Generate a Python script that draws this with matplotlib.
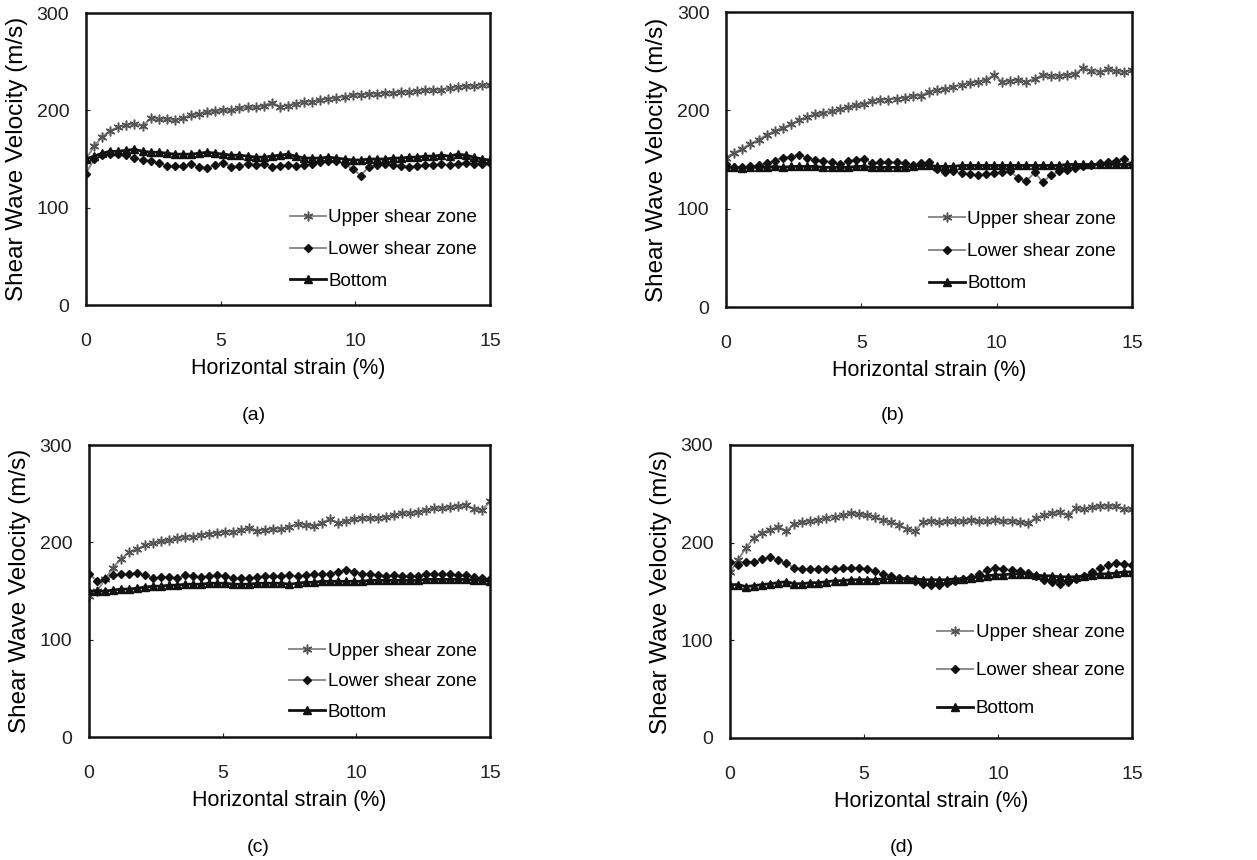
import matplotlib
matplotlib.use("Agg")
import matplotlib.pyplot as plt
import numpy as np

plt.rcParams['font.family'] = ['Liberation Sans', 'DejaVu Sans']

# strain values (%), 0 to 15 in 0.3 steps
strain = np.round(np.arange(0, 15.01, 0.3), 1)

# (a)
upper_a = [150, 163, 173, 179, 183, 185, 186, 184, 192, 191, 191, 190, 192, 195, 196, 198, 199,
           200, 200, 202, 203, 203, 205, 208, 204, 205, 207, 209, 209, 211, 212, 213, 214, 216,
           216, 217, 217, 218, 218, 219, 219, 220, 221, 221, 221, 223, 224, 225, 225, 226, 226]
lower_a = [135, 150, 154, 155, 155, 154, 151, 149, 148, 146, 143, 143, 143, 145, 142, 141, 144,
           146, 142, 143, 145, 144, 145, 142, 143, 144, 143, 144, 145, 147, 148, 148, 145, 140,
           133, 142, 144, 145, 144, 143, 142, 143, 144, 144, 145, 144, 145, 146, 145, 145, 146]
bottom_a = [150, 153, 156, 158, 158, 159, 160, 158, 157, 157, 156, 155, 155, 155, 156, 157, 156,
            155, 154, 154, 153, 152, 152, 153, 154, 155, 153, 151, 151, 151, 152, 151, 150, 149,
            149, 150, 150, 150, 151, 151, 152, 152, 153, 153, 154, 153, 155, 154, 152, 150, 149]

# (b)
upper_b = [152, 157, 161, 166, 170, 175, 179, 182, 186, 190, 193, 196, 197, 199, 201, 203, 205,
           206, 210, 211, 211, 212, 213, 215, 215, 219, 221, 222, 224, 226, 228, 229, 231, 236,
           229, 230, 231, 229, 232, 236, 235, 235, 236, 237, 243, 240, 239, 242, 240, 239, 241]
lower_b = [145, 142, 142, 143, 144, 146, 149, 152, 153, 155, 152, 150, 149, 147, 145, 148, 150,
           151, 146, 147, 147, 147, 146, 144, 146, 147, 140, 137, 138, 136, 135, 134, 135, 136,
           137, 138, 131, 128, 137, 127, 134, 138, 139, 141, 143, 144, 146, 147, 149, 151, 145]
bottom_b = [142, 142, 141, 142, 142, 142, 143, 142, 143, 143, 143, 143, 142, 142, 142, 142, 143,
            143, 142, 142, 142, 142, 142, 143, 144, 144, 143, 143, 143, 144, 144, 144, 144, 144,
            144, 144, 144, 144, 144, 144, 144, 144, 145, 145, 145, 145, 145, 145, 145, 145, 145]

# (c)
upper_c = [145, 150, 162, 174, 183, 190, 193, 197, 199, 201, 202, 204, 206, 206, 208, 209, 210,
           211, 211, 213, 215, 212, 213, 214, 214, 216, 219, 218, 217, 220, 224, 220, 222, 224,
           225, 225, 225, 226, 228, 230, 230, 231, 233, 235, 235, 236, 237, 238, 234, 233, 242]
lower_c = [168, 160, 162, 166, 167, 167, 169, 166, 163, 164, 164, 163, 166, 165, 164, 165, 166,
           165, 163, 163, 163, 164, 165, 165, 165, 166, 165, 166, 167, 167, 168, 170, 172, 170,
           168, 167, 166, 165, 166, 165, 165, 165, 168, 167, 167, 167, 166, 166, 164, 163, 162]
bottom_c = [150, 150, 150, 151, 152, 152, 153, 154, 155, 155, 156, 156, 157, 157, 157, 158, 158,
            158, 157, 157, 157, 158, 158, 158, 158, 157, 158, 159, 159, 160, 160, 160, 160, 160,
            160, 161, 161, 161, 161, 161, 161, 161, 162, 162, 162, 162, 162, 162, 161, 161, 160]

# (d)
upper_d = [170, 182, 195, 205, 210, 213, 216, 212, 219, 221, 222, 223, 225, 226, 228, 230, 229,
           228, 226, 223, 221, 218, 214, 212, 221, 222, 221, 222, 222, 222, 223, 222, 222, 223,
           222, 222, 221, 220, 225, 228, 230, 231, 228, 235, 234, 236, 237, 238, 237, 234, 234]
lower_d = [180, 177, 180, 180, 183, 185, 182, 179, 174, 173, 173, 173, 173, 173, 174, 174, 174,
           173, 171, 168, 166, 164, 163, 161, 158, 157, 157, 159, 161, 163, 165, 168, 172, 174,
           173, 172, 171, 169, 166, 162, 160, 158, 160, 163, 166, 170, 174, 177, 179, 178, 177]
bottom_d = [157, 157, 155, 156, 157, 158, 159, 160, 158, 158, 159, 159, 160, 161, 161, 162, 162,
            162, 162, 163, 163, 163, 163, 163, 162, 162, 162, 162, 163, 163, 164, 165, 166, 167,
            167, 168, 168, 168, 167, 166, 166, 165, 165, 165, 166, 167, 168, 168, 169, 170, 170]

series_names = ['Upper shear zone', 'Lower shear zone', 'Bottom']
captions = ['(a)', '(b)', '(c)', '(d)']
panels = [(upper_a, lower_a, bottom_a), (upper_b, lower_b, bottom_b),
          (upper_c, lower_c, bottom_c), (upper_d, lower_d, bottom_d)]

# axes boxes [left, bottom, width, height] in figure fractions
boxes = [[0.0684, 0.6453, 0.3214, 0.3395], [0.5776, 0.6430, 0.3230, 0.3430],
         [0.0708, 0.1430, 0.3190, 0.3395], [0.5807, 0.1419, 0.3200, 0.3407]]
legend_anchor = [(0.505, 0.052), (0.50, 0.05), (0.50, 0.055), (0.515, 0.07)]
legend_spacing = [0.78, 0.8, 0.72, 1.12]
caption_pos = [(0.202, 0.5174), (0.7104, 0.5174), (0.2053, 0.014), (0.7176, 0.0151)]

fig = plt.figure(figsize=(12.57, 8.6), dpi=100)

for i, (up, lo, bo) in enumerate(panels):
    ax = fig.add_axes(boxes[i])
    ax.plot(strain, up, color='#8c8c8c', lw=1.4, marker=(6, 2, 0), ms=7,
            mec='#555555', mew=1.1, label=series_names[0])
    ax.plot(strain, lo, color='#8c8c8c', lw=1.4, marker='D', ms=4.5,
            mfc='#111111', mec='#111111', label=series_names[1])
    ax.plot(strain, bo, color='#111111', lw=2.0, marker='^', ms=5.5,
            mfc='#111111', mec='#111111', label=series_names[2])

    ax.set_xlim(0, 15)
    ax.set_ylim(0, 300)
    ax.set_xticks([0, 5, 10, 15])
    ax.set_yticks([0, 100, 200, 300])
    ax.tick_params(direction='in', length=3, width=0.8, labelsize=14, colors='#222222')
    ax.tick_params(axis='x', pad=20)
    ax.tick_params(axis='y', pad=12)
    for s in ax.spines.values():
        s.set_linewidth(1.8)
        s.set_color('#111111')
    ax.set_xlabel('Horizontal strain (%)', fontsize=15.5, labelpad=6)
    ax.set_ylabel('Shear Wave Velocity (m/s)', fontsize=17.5, labelpad=6)
    ax.legend(loc='lower left', bbox_to_anchor=legend_anchor[i], frameon=False,
              fontsize=13.5, handlelength=1.9, handletextpad=0.15,
              labelspacing=legend_spacing[i], borderpad=0, borderaxespad=0)
    fig.text(caption_pos[i][0], caption_pos[i][1], captions[i], fontsize=14,
             ha='center', va='center')

fig.savefig('out.png', dpi=100)
